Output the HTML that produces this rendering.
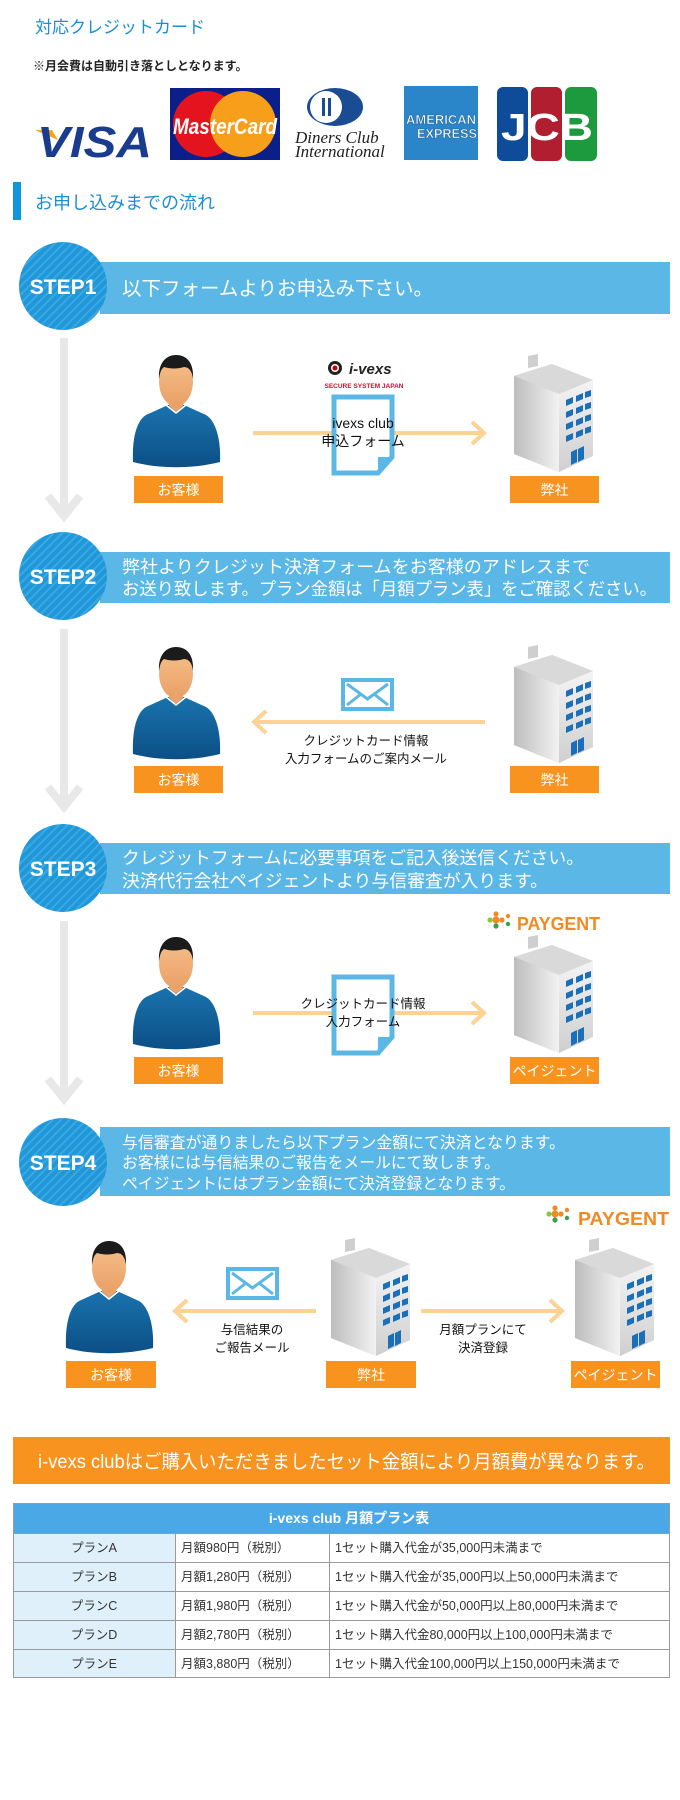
<!DOCTYPE html>
<html><head><meta charset="utf-8">
<style>
html,body{margin:0;padding:0;background:#fff;}
svg{display:block;font-family:"Liberation Sans","Noto Sans CJK JP",sans-serif;}
</style></head>
<body>
<svg width="680" height="1800" viewBox="0 0 680 1800" xmlns="http://www.w3.org/2000/svg">
<defs>
  <pattern id="stripe" width="6" height="6" patternUnits="userSpaceOnUse" patternTransform="rotate(45)">
    <rect width="6" height="6" fill="#1f97d8"/>
    <rect width="2" height="6" fill="#3aa8e2"/>
  </pattern>
  <linearGradient id="skin" x1="0" y1="0" x2="0" y2="1"><stop offset="0" stop-color="#f6c08a"/><stop offset="1" stop-color="#e9a066"/></linearGradient>
  <linearGradient id="shirt" x1="0" y1="0" x2="0" y2="1"><stop offset="0" stop-color="#1a73ad"/><stop offset="1" stop-color="#0c4f86"/></linearGradient>
  <linearGradient id="bldL" x1="0" y1="0" x2="1" y2="0"><stop offset="0" stop-color="#bdbdbd"/><stop offset="1" stop-color="#f2f2f2"/></linearGradient>
  <linearGradient id="bldR" x1="0" y1="0" x2="0" y2="1"><stop offset="0" stop-color="#f4f4f4"/><stop offset="1" stop-color="#cfcfcf"/></linearGradient>
  <g id="person">
    <path d="M1,107 C0,85 4,66 14,60 L36,50 L52,50 L74,60 C84,66 89,85 88,107 C60,114 28,114 1,107 Z" fill="url(#shirt)"/>
    <path d="M34,50 L44,58 L54,50" fill="none" stroke="#fff" stroke-width="1.5"/>
    <path d="M37,40 L37,51 L44,57 L51,51 L51,40 Z" fill="#e8a26a"/>
    <ellipse cx="44" cy="27" rx="17" ry="24" fill="url(#skin)"/>
    <path d="M27,24 C26,8 34,0 44,0 C55,0 62,8 61,24 C60,16 57,12 52,12 C46,14 38,14 32,12 C29,14 28,18 27,24 Z" fill="#1b1b1b"/>
  </g>
  <g id="bld">
    <path d="M0,20 L38,8 L79,24 L79,100 L45,116 L0,98 Z" fill="url(#bldL)"/>
    <path d="M45,38 L79,24 L79,100 L45,116 Z" fill="url(#bldR)"/>
    <path d="M0,20 L38,8 L79,24 L45,38 Z" fill="#d9d9d9"/>
    <path d="M0,20 L45,38 L45,116 L0,98 Z" fill="url(#bldL)"/>
    <path d="M14,12 L14,0 L24,-2 L24,10 Z" fill="#cfcfcf"/>
    <g fill="#1b6fb8">
      <path d="M52,44 l7,-3 v6 l-7,3z M62,40 l7,-3 v6 l-7,3z M71,36 l6,-2 v6 l-6,2z"/>
      <path d="M52,56 l7,-3 v6 l-7,3z M62,52 l7,-3 v6 l-7,3z M71,48 l6,-2 v6 l-6,2z"/>
      <path d="M52,68 l7,-3 v6 l-7,3z M62,64 l7,-3 v6 l-7,3z M71,60 l6,-2 v6 l-6,2z"/>
      <path d="M52,80 l7,-3 v6 l-7,3z M62,76 l7,-3 v6 l-7,3z M71,72 l6,-2 v6 l-6,2z"/>
      <path d="M57,96 l6,-3 v13 l-6,3z M64,93 l6,-3 v13 l-6,3z"/>
    </g>
  </g>
  <g id="doc">
    <path d="M2,2 L60,2 L60,62 L46,78 L2,78 Z" fill="#fff" stroke="#5bb7e5" stroke-width="5"/>
    <path d="M60,62 L46,62 L46,78" fill="#5bb7e5"/>
  </g>
  <g id="env">
    <rect x="0" y="0" width="53" height="33" fill="#5bb7e5"/>
    <rect x="4" y="4" width="45" height="25" fill="#fff"/>
    <path d="M6,6 L26.5,21 L47,6 M6,27 L20,16 M47,27 L33,16" fill="none" stroke="#5bb7e5" stroke-width="3"/>
  </g>
  <g id="paygent">
    <circle cx="8" cy="2" r="2.6" fill="#f08a24"/><circle cx="2" cy="8" r="2.6" fill="#8cc63f"/>
    <circle cx="8" cy="14" r="2.6" fill="#3aa04a"/><circle cx="14" cy="8" r="2.6" fill="#f08a24"/>
    <circle cx="8" cy="8" r="3.5" fill="#f08a24"/>
    <circle cx="20" cy="4" r="2.2" fill="#f08a24"/><circle cx="20" cy="12" r="2.2" fill="#3aa04a"/>
  </g>
  <g id="downarrow">
    <rect x="60" y="0" width="8" height="176" fill="#e8e8e8"/>
    <path d="M48,158 L64,178 L80,158" fill="none" stroke="#e8e8e8" stroke-width="8"/>
  </g>
</defs>

<!-- Header -->
<text x="35" y="33" font-size="17" fill="#1a8fd6">対応クレジットカード</text>
<text x="33" y="70" font-size="12" fill="#222" font-weight="bold">※月会費は自動引き落としとなります。</text>

<!-- VISA -->
<path d="M35,130 L52,130 L58,140 Z" fill="#f4a51c"/>
<text x="37" y="157" font-size="44" font-weight="bold" font-style="italic" fill="#1a3c8f" textLength="115" lengthAdjust="spacingAndGlyphs">VISA</text>
<!-- MasterCard -->
<rect x="170" y="88" width="110" height="72" fill="#0b1f8a"/>
<circle cx="206" cy="124" r="33" fill="#e3141d"/>
<circle cx="243" cy="124" r="33" fill="#f79e1b"/>
<text x="225" y="134" font-size="22" font-weight="bold" font-style="italic" fill="#fff" text-anchor="middle" textLength="104" lengthAdjust="spacingAndGlyphs">MasterCard</text>
<!-- Diners -->
<ellipse cx="335" cy="107" rx="28" ry="19" fill="#1a4c94"/>
<circle cx="326" cy="107" r="16" fill="#fff"/>
<rect x="322" y="98" width="3" height="18" fill="#1a4c94"/><rect x="328" y="98" width="3" height="18" fill="#1a4c94"/>
<text x="295" y="143" font-size="17" font-style="italic" font-family="Liberation Serif,serif" fill="#222">Diners Club</text>
<text x="295" y="157" font-size="17" font-style="italic" font-family="Liberation Serif,serif" fill="#222">International</text>
<!-- AMEX -->
<rect x="404" y="86" width="74" height="74" fill="#2a86c8"/>
<text x="441" y="124" font-size="13" font-weight="bold" fill="#fff" text-anchor="middle" textLength="70" lengthAdjust="spacingAndGlyphs" stroke="#1f5f99" stroke-width="0.5">AMERICAN</text>
<text x="447" y="138" font-size="13" font-weight="bold" fill="#fff" text-anchor="middle" textLength="60" lengthAdjust="spacingAndGlyphs" stroke="#1f5f99" stroke-width="0.5">EXPRESS</text>
<!-- JCB -->
<rect x="497" y="87" width="31" height="74" rx="6" fill="#0e4c9a"/>
<rect x="531" y="87" width="31" height="74" rx="6" fill="#b01e2f"/>
<rect x="565" y="87" width="32" height="74" rx="6" fill="#1e9a3e"/>
<text x="547" y="140" font-size="38" font-weight="bold" fill="#fff" text-anchor="middle" textLength="92" lengthAdjust="spacingAndGlyphs">JCB</text>

<!-- Section heading -->
<rect x="13" y="182" width="8" height="38" fill="#0e95dc"/>
<text x="35" y="209" font-size="18" fill="#1a8fd6">お申し込みまでの流れ</text>

<!-- STEP bands -->
<rect x="100" y="262" width="570" height="52" fill="#5bb7e5"/>
<circle cx="63" cy="286" r="44" fill="url(#stripe)"/>
<text x="63" y="294" font-size="21" font-weight="bold" fill="#fff" text-anchor="middle">STEP1</text>
<text x="122" y="295" font-size="19.5" fill="#fff">以下フォームよりお申込み下さい。</text>

<rect x="100" y="552" width="570" height="51" fill="#5bb7e5"/>
<circle cx="63" cy="576" r="44" fill="url(#stripe)"/>
<text x="63" y="584" font-size="21" font-weight="bold" fill="#fff" text-anchor="middle">STEP2</text>
<text x="122" y="573" font-size="17.5" fill="#fff" textLength="468" lengthAdjust="spacingAndGlyphs">弊社よりクレジット決済フォームをお客様のアドレスまで</text>
<text x="122" y="595" font-size="17.5" fill="#fff" textLength="535" lengthAdjust="spacingAndGlyphs">お送り致します。プラン金額は「月額プラン表」をご確認ください。</text>

<rect x="100" y="843" width="570" height="51" fill="#5bb7e5"/>
<circle cx="63" cy="868" r="44" fill="url(#stripe)"/>
<text x="63" y="876" font-size="21" font-weight="bold" fill="#fff" text-anchor="middle">STEP3</text>
<text x="122" y="864" font-size="17.5" fill="#fff" textLength="462" lengthAdjust="spacingAndGlyphs">クレジットフォームに必要事項をご記入後送信ください。</text>
<text x="122" y="887" font-size="17.5" fill="#fff" textLength="426" lengthAdjust="spacingAndGlyphs">決済代行会社ペイジェントより与信審査が入ります。</text>

<rect x="100" y="1127" width="570" height="69" fill="#5bb7e5"/>
<circle cx="63" cy="1162" r="44" fill="url(#stripe)"/>
<text x="63" y="1170" font-size="21" font-weight="bold" fill="#fff" text-anchor="middle">STEP4</text>
<text x="122" y="1148" font-size="15.8" fill="#fff" textLength="443" lengthAdjust="spacingAndGlyphs">与信審査が通りましたら以下プラン金額にて決済となります。</text>
<text x="122" y="1168" font-size="15.8" fill="#fff" textLength="378" lengthAdjust="spacingAndGlyphs">お客様には与信結果のご報告をメールにて致します。</text>
<text x="122" y="1189" font-size="15.8" fill="#fff" textLength="393" lengthAdjust="spacingAndGlyphs">ペイジェントにはプラン金額にて決済登録となります。</text>

<!-- gray arrows -->
<use href="#downarrow" x="0" y="338"/>
<use href="#downarrow" x="0" y="629"/>
<use href="#downarrow" x="0" y="921"/>

<!-- STEP1 content -->
<use href="#person" x="132" y="355"/>
<rect x="134" y="476" width="89" height="27" fill="#f7931e"/>
<text x="178.5" y="495" font-size="14" fill="#fff" text-anchor="middle">お客様</text>
<line x1="253" y1="433" x2="482" y2="433" stroke="#fcd394" stroke-width="4"/>
<path d="M472,422 L484,433 L472,444" fill="none" stroke="#fcd394" stroke-width="4"/>
<use href="#doc" x="332" y="395"/>
<circle cx="335" cy="368" r="7" fill="#222"/><circle cx="335" cy="368" r="4" fill="#fff"/><circle cx="335" cy="368" r="2.5" fill="#c00"/>
<text x="349" y="374" font-size="15" font-weight="bold" font-style="italic" fill="#222">i-vexs</text>
<text x="364" y="388" font-size="6.5" font-weight="bold" fill="#c8102e" text-anchor="middle">SECURE SYSTEM JAPAN</text>
<rect x="322" y="415" width="80" height="36" fill="#fff" opacity="0"/>
<text x="363" y="428" font-size="14" fill="#111" text-anchor="middle">ivexs club</text>
<text x="363" y="446" font-size="14" fill="#111" text-anchor="middle">申込フォーム</text>
<use href="#bld" x="514" y="356"/>
<rect x="510" y="476" width="89" height="27" fill="#f7931e"/>
<text x="554.5" y="495" font-size="14" fill="#fff" text-anchor="middle">弊社</text>

<!-- STEP2 content -->
<use href="#person" x="132" y="647"/>
<rect x="134" y="766" width="89" height="27" fill="#f7931e"/>
<text x="178.5" y="785" font-size="14" fill="#fff" text-anchor="middle">お客様</text>
<use href="#env" x="341" y="678"/>
<line x1="255" y1="722" x2="485" y2="722" stroke="#fcd394" stroke-width="4"/>
<path d="M266,711 L254,722 L266,733" fill="none" stroke="#fcd394" stroke-width="4"/>
<text x="366" y="745" font-size="12.5" fill="#111" text-anchor="middle">クレジットカード情報</text>
<text x="366" y="763" font-size="12.5" fill="#111" text-anchor="middle">入力フォームのご案内メール</text>
<use href="#bld" x="514" y="647"/>
<rect x="510" y="766" width="89" height="27" fill="#f7931e"/>
<text x="554.5" y="785" font-size="14" fill="#fff" text-anchor="middle">弊社</text>

<!-- STEP3 content -->
<use href="#paygent" x="488" y="912"/>
<text x="517" y="930" font-size="18" font-weight="bold" fill="#f08a24" textLength="83" lengthAdjust="spacingAndGlyphs">PAYGENT</text>
<use href="#person" x="132" y="937"/>
<rect x="134" y="1057" width="89" height="27" fill="#f7931e"/>
<text x="178.5" y="1076" font-size="14" fill="#fff" text-anchor="middle">お客様</text>
<line x1="253" y1="1013" x2="482" y2="1013" stroke="#fcd394" stroke-width="4"/>
<path d="M472,1002 L484,1013 L472,1024" fill="none" stroke="#fcd394" stroke-width="4"/>
<use href="#doc" x="332" y="975"/>
<text x="363" y="1008" font-size="12.5" fill="#111" text-anchor="middle">クレジットカード情報</text>
<text x="363" y="1026" font-size="12.5" fill="#111" text-anchor="middle">入力フォーム</text>
<use href="#bld" x="514" y="937"/>
<rect x="510" y="1057" width="89" height="27" fill="#f7931e"/>
<text x="554.5" y="1076" font-size="14" fill="#fff" text-anchor="middle">ペイジェント</text>

<!-- STEP4 content -->
<use href="#paygent" x="547" y="1206"/>
<text x="578" y="1225" font-size="18" font-weight="bold" fill="#f08a24" textLength="91" lengthAdjust="spacingAndGlyphs">PAYGENT</text>
<use href="#person" x="65" y="1241"/>
<rect x="66" y="1361" width="90" height="27" fill="#f7931e"/>
<text x="111" y="1380" font-size="14" fill="#fff" text-anchor="middle">お客様</text>
<use href="#env" x="226" y="1267"/>
<line x1="176" y1="1311" x2="316" y2="1311" stroke="#fcd394" stroke-width="4"/>
<path d="M187,1300 L175,1311 L187,1322" fill="none" stroke="#fcd394" stroke-width="4"/>
<text x="252" y="1334" font-size="12.5" fill="#111" text-anchor="middle">与信結果の</text>
<text x="252" y="1352" font-size="12.5" fill="#111" text-anchor="middle">ご報告メール</text>
<use href="#bld" x="331" y="1240"/>
<rect x="326" y="1361" width="90" height="27" fill="#f7931e"/>
<text x="371" y="1380" font-size="14" fill="#fff" text-anchor="middle">弊社</text>
<line x1="421" y1="1311" x2="560" y2="1311" stroke="#fcd394" stroke-width="4"/>
<path d="M550,1300 L562,1311 L550,1322" fill="none" stroke="#fcd394" stroke-width="4"/>
<text x="483" y="1334" font-size="12.5" fill="#111" text-anchor="middle">月額プランにて</text>
<text x="483" y="1352" font-size="12.5" fill="#111" text-anchor="middle">決済登録</text>
<use href="#bld" x="575" y="1240"/>
<rect x="571" y="1361" width="89" height="27" fill="#f7931e"/>
<text x="615.5" y="1380" font-size="14" fill="#fff" text-anchor="middle">ペイジェント</text>

<!-- Orange banner -->
<rect x="13" y="1437" width="657" height="47" fill="#f7931e"/>
<text x="38" y="1468" font-size="19" fill="#fff" textLength="617" lengthAdjust="spacingAndGlyphs">i-vexs clubはご購入いただきましたセット金額により月額費が異なります。</text>

<!-- Table -->
<rect x="13" y="1503" width="657" height="30" fill="#4aa8e6"/>
<text x="349" y="1523" font-size="14" font-weight="bold" fill="#fff" text-anchor="middle">i-vexs club 月額プラン表</text>
<rect x="13" y="1533" width="162" height="145" fill="#dff0fb"/>
<g stroke="#9a9a9a" stroke-width="1" fill="none">
  <rect x="13.5" y="1503.5" width="656" height="174"/>
  <line x1="13" y1="1533.5" x2="670" y2="1533.5"/>
  <line x1="13" y1="1562.5" x2="670" y2="1562.5"/>
  <line x1="13" y1="1591.5" x2="670" y2="1591.5"/>
  <line x1="13" y1="1620.5" x2="670" y2="1620.5"/>
  <line x1="13" y1="1649.5" x2="670" y2="1649.5"/>
  <line x1="175.5" y1="1533" x2="175.5" y2="1678"/>
  <line x1="329.5" y1="1533" x2="329.5" y2="1678"/>
</g>
<g font-size="12.5" fill="#333">
  <text x="94" y="1552" text-anchor="middle">プランA</text>
  <text x="94" y="1581" text-anchor="middle">プランB</text>
  <text x="94" y="1610" text-anchor="middle">プランC</text>
  <text x="94" y="1639" text-anchor="middle">プランD</text>
  <text x="94" y="1668" text-anchor="middle">プランE</text>
  <text x="181" y="1552">月額980円（税別）</text>
  <text x="181" y="1581">月額1,280円（税別）</text>
  <text x="181" y="1610">月額1,980円（税別）</text>
  <text x="181" y="1639">月額2,780円（税別）</text>
  <text x="181" y="1668">月額3,880円（税別）</text>
  <text x="335" y="1552">1セット購入代金が35,000円未満まで</text>
  <text x="335" y="1581">1セット購入代金が35,000円以上50,000円未満まで</text>
  <text x="335" y="1610">1セット購入代金が50,000円以上80,000円未満まで</text>
  <text x="335" y="1639">1セット購入代金80,000円以上100,000円未満まで</text>
  <text x="335" y="1668">1セット購入代金100,000円以上150,000円未満まで</text>
</g>
</svg>
</body></html>
